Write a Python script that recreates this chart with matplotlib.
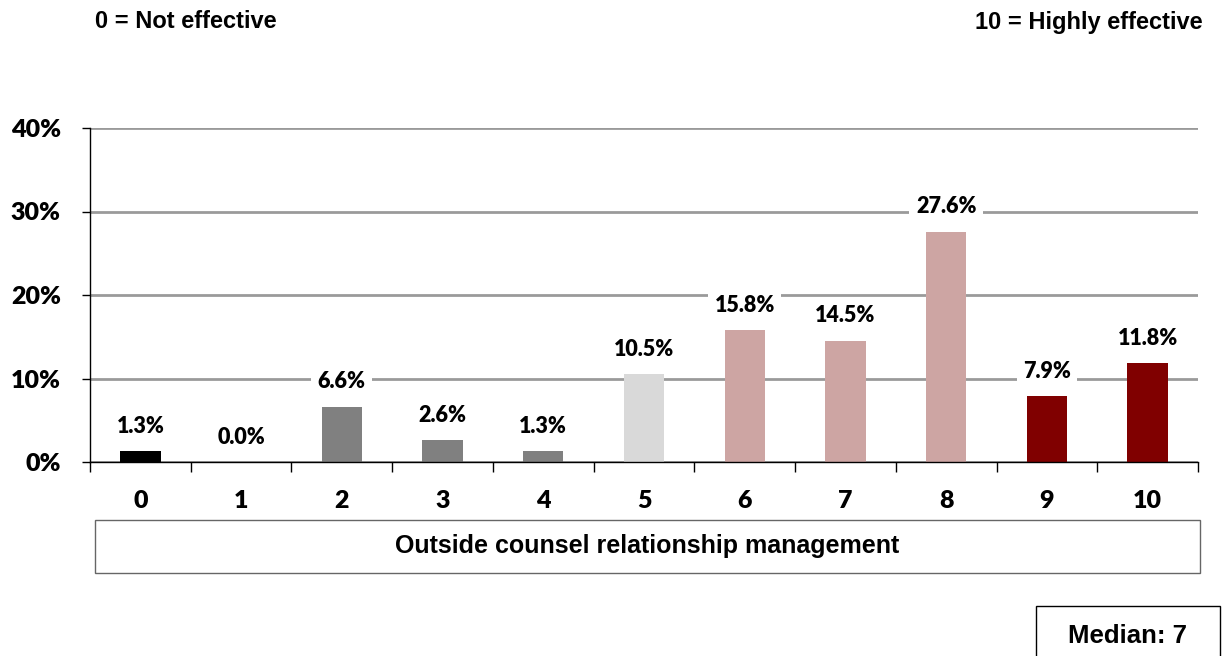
import matplotlib
matplotlib.use("Agg")
import matplotlib.pyplot as plt
from matplotlib.patches import Rectangle

categories = ["0", "1", "2", "3", "4", "5", "6", "7", "8", "9", "10"]
values = [1.3, 0.0, 6.6, 2.6, 1.3, 10.5, 15.8, 14.5, 27.6, 7.9, 11.8]
colors = ["#000000", "#808080", "#808080", "#808080", "#808080", "#d9d9d9",
          "#cda5a3", "#cda5a3", "#cda5a3", "#800000", "#800000"]
yticks = [0, 10, 20, 30, 40]
ytick_labels = ["0%", "10%", "20%", "30%", "40%"]
axis_title = "Outside counsel relationship management"
left_note = "0 = Not effective"
right_note = "10 = Highly effective"
median_text = "Median: 7"

W, H = 1225, 656
fig = plt.figure(figsize=(W / 100, H / 100), dpi=100)
ax = fig.add_axes([90 / W, 1 - 462 / H, (1198 - 90) / W, (462 - 128) / H])

x = list(range(len(categories)))
ax.bar(x, values, width=0.4, color=colors, zorder=3)
ax.set_xlim(-0.5, len(categories) - 0.5)
ax.set_ylim(0, 40)

ax.set_yticks(yticks)
ax.set_yticklabels(ytick_labels, fontsize=18, fontweight="heavy", family="Lato")
ax.yaxis.grid(True, color="#9a9a9a", linewidth=2, zorder=0)
ax.tick_params(axis="y", length=6, width=1, pad=15, direction="out")

ax.set_xticks([i - 0.5 for i in range(len(categories) + 1)])
ax.set_xticklabels([])
ax.set_xticks(x, minor=True)
ax.set_xticklabels(categories, minor=True, fontsize=18, fontweight="heavy", family="Lato")
ax.tick_params(axis="x", which="major", length=7, width=1, direction="out")
ax.tick_params(axis="x", which="minor", length=0, pad=20)

for s in ["top", "right"]:
    ax.spines[s].set_visible(False)
for s in ["left", "bottom"]:
    ax.spines[s].set_color("black")
    ax.spines[s].set_linewidth(1)
    ax.spines[s].set_zorder(4)

for xi, v in zip(x, values):
    ax.annotate(f"{v:.1f}%", xy=(xi, v), xytext=(0, 18), textcoords="offset points",
                ha="center", va="center", fontsize=15.5, fontweight="heavy",
                family="Lato", zorder=5,
                bbox=dict(boxstyle="square,pad=0.3", fc="white", ec="none"))

# Axis title box
fig.patches.append(Rectangle((95 / W, 1 - 573 / H), (1200 - 95) / W, (573 - 520) / H,
                             transform=fig.transFigure, fill=False,
                             edgecolor="#666666", linewidth=1))
fig.text((95 + 1200) / 2 / W, 1 - 546 / H, axis_title, ha="center", va="center",
         fontsize=18, fontweight="bold", family="Liberation Sans")

# Median box
fig.patches.append(Rectangle((1036 / W, 1 - 660 / H), (1220 - 1036) / W, (660 - 606) / H,
                             transform=fig.transFigure, fill=False,
                             edgecolor="black", linewidth=1))
fig.text((1036 + 1220) / 2 / W, 1 - 636 / H, median_text, ha="center", va="center",
         fontsize=18.5, fontweight="bold", family="Liberation Sans")

fig.text(95 / W, 1 - 22 / H, left_note, ha="left", va="center",
         fontsize=17, fontweight="bold", family="Liberation Sans")
fig.text(1203 / W, 1 - 22 / H, right_note, ha="right", va="center",
         fontsize=17, fontweight="bold", family="Liberation Sans")

fig.savefig("out.png", dpi=100)
